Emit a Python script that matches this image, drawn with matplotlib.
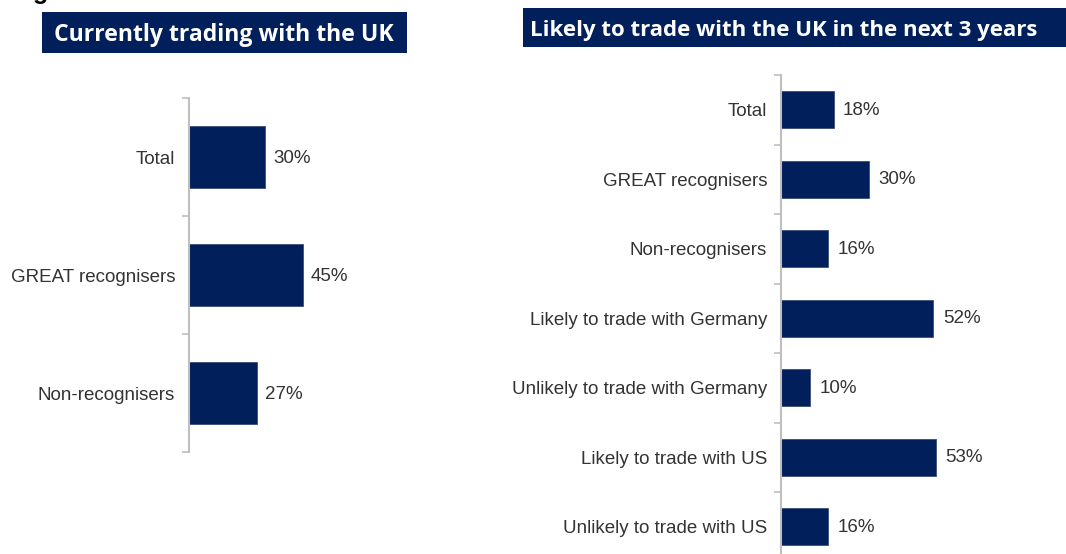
import numpy as np
import matplotlib
matplotlib.use("Agg")
import matplotlib.pyplot as plt
from matplotlib.patches import Rectangle

# data
left_title = "Currently trading with the UK"
left_cats = ["Total", "GREAT recognisers", "Non-recognisers"]
left_vals = [30, 45, 27]

right_title = "Likely to trade with the UK in the next 3 years"
right_cats = ["Total", "GREAT recognisers", "Non-recognisers",
              "Likely to trade with Germany", "Unlikely to trade with Germany",
              "Likely to trade with US", "Unlikely to trade with US"]
right_vals = [18, 30, 16, 52, 10, 53, 16]

NAVY = "#001F5B"
GREY = "#BFBFBF"
TXT = "#333333"

plt.rcParams['font.family'] = ['Liberation Sans', 'DejaVu Sans']

fig = plt.figure(figsize=(10.66, 5.54), dpi=100)


def draw_panel(ax, cats, vals):
    pos = np.arange(len(cats))
    ax.barh(pos, vals, height=0.53, color=NAVY, edgecolor="#3b4d78", linewidth=0.6)
    ax.set_xlim(0, 100)
    ax.set_ylim(len(cats) - 0.5, -0.5)
    ax.set_yticks(pos)
    ax.set_yticklabels(cats, fontsize=13.5, color=TXT)
    ax.set_yticks(np.arange(len(cats) + 1) - 0.5, minor=True)
    ax.tick_params(axis='y', which='major', length=0, pad=10)
    ax.tick_params(axis='y', which='minor', length=5, width=1.2, color=GREY, direction='out')
    ax.set_xticks([])
    for s in ['top', 'right', 'bottom']:
        ax.spines[s].set_visible(False)
    ax.spines['left'].set_color(GREY)
    ax.spines['left'].set_linewidth(1.5)
    for p, v in zip(pos, vals):
        ax.text(v + 3.2, p + 0.01, f"{v}%", va='center', ha='left', fontsize=13.5, color=TXT)


ax1 = fig.add_axes([0.1773, 0.1841, 0.2373, 0.639])
draw_panel(ax1, left_cats, left_vals)

ax2 = fig.add_axes([0.7326, -0.0135, 0.2749, 0.878])
draw_panel(ax2, right_cats, right_vals)

# title boxes
fig.patches.append(Rectangle((0.0394, 0.9043), 0.3424, 0.074, transform=fig.transFigure,
                             facecolor=NAVY, edgecolor='none'))
fig.text(0.2098, 0.9375, left_title, ha='center', va='center', color='white',
         fontsize=16.6, fontweight='bold', family='Open Sans')

fig.patches.append(Rectangle((0.4906, 0.9152), 0.52, 0.0704, transform=fig.transFigure,
                             facecolor=NAVY, edgecolor='none'))
fig.text(0.7355, 0.9455, right_title, ha='center', va='center', color='white',
         fontsize=16, fontweight='bold', family='Open Sans')

# cut-off heading fragment at the very top
fig.text(0.031, 1.002, "g", ha='left', va='baseline', fontsize=18,
         fontweight='bold', color='black', family='Liberation Sans')

fig.savefig("out.png", dpi=100)
